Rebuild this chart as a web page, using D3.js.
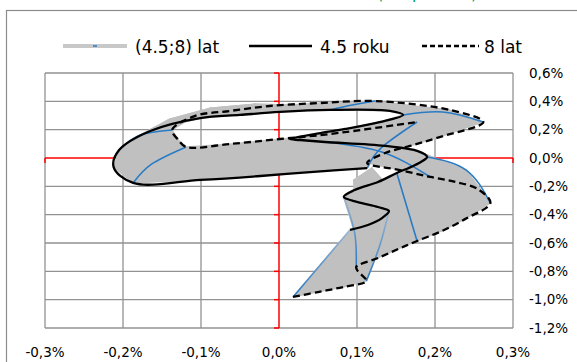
<!DOCTYPE html>
<html><head><meta charset="utf-8">
<script src="https://cdn.jsdelivr.net/npm/d3@7"></script>
<style>body{margin:0;background:#fff}svg{display:block}</style>
</head><body>
<svg id="c" width="577" height="362"></svg>
<script>
// ---- data (values in %) ----
const xTicks = [-0.3,-0.2,-0.1,0,0.1,0.2,0.3];
const yTicks = [0.6,0.4,0.2,0,-0.2,-0.4,-0.6,-0.8,-1.0,-1.2];
const legendNames = ["(4.5;8) lat","4.5 roku","8 lat"];
// 4.5 roku
const x45 = [0.091,0.114,0.132,0.141,0.127,0.101,0.083,0.097,0.127,0.151,0.172,0.186,0.190,0.178,0.136,0.059,0.027,0.014,0.053,0.085,0.129,0.159,0.142,0.065,0.001,-0.050,-0.101,-0.165,-0.205,-0.212,-0.187,-0.101,-0.024,0.040,0.113];
const y45 = [-0.508,-0.473,-0.424,-0.374,-0.346,-0.311,-0.275,-0.226,-0.169,-0.106,-0.056,-0.014,0.007,0.049,0.085,0.113,0.127,0.134,0.176,0.205,0.254,0.304,0.332,0.339,0.325,0.304,0.282,0.191,0.056,-0.064,-0.176,-0.155,-0.127,-0.099,-0.071];
// intermediate maturity inside the (4.5;8) band
const xMid = [0.054,0.078,0.106,0.129,0.117,0.106,0.097,0.096,0.119,0.164,0.191,0.217,0.240,0.222,0.174,0.132,0.104,0.072,0.091,0.123,0.162,0.210,0.181,0.094,0.027,-0.031,-0.088,-0.140,-0.178,-0.165,-0.163,-0.082,-0.012,0.053,0.131];
const yMid = [-0.748,-0.706,-0.664,-0.621,-0.579,-0.551,-0.529,-0.155,-0.071,-0.346,-0.261,-0.169,-0.085,-0.049,0.007,0.042,0.056,0.071,0.113,0.155,0.212,0.325,0.360,0.374,0.374,0.381,0.353,0.275,0.162,0.071,-0.042,-0.014,0.014,0.035,0.071];
// 8 lat
const x8 = [0.018,0.050,0.082,0.112,0.106,0.101,0.099,0.127,0.153,0.177,0.209,0.241,0.271,0.255,0.226,0.194,0.155,0.113,0.136,0.168,0.206,0.262,0.219,0.123,0.053,-0.012,-0.063,-0.108,-0.137,-0.129,-0.119,-0.063,0.001,0.065,0.177];
const y8 = [-0.981,-0.946,-0.911,-0.868,-0.826,-0.798,-0.769,-0.706,-0.642,-0.586,-0.515,-0.424,-0.318,-0.219,-0.169,-0.134,-0.085,-0.035,0.035,0.085,0.148,0.254,0.339,0.402,0.388,0.367,0.332,0.296,0.198,0.127,0.078,0.099,0.134,0.169,0.254];
// time points where the cross-section across maturities is drawn (blue)
const crossIdx = [0,3,6,9,12,15,21,23,28,30,34];
const lightCross = [0,3,6];

// ---- drawing ----
const svg = d3.select("#c");
const x = d3.scaleLinear().domain([-0.3,0.3]).range([45,513]);
const y = d3.scaleLinear().domain([-1.2,0.6]).range([328,73]);
const fmt = v => (Math.abs(v)<1e-9 ? "0,0" : v.toFixed(1).replace(".",",")) + "%";
const FONT = "DejaVu Sans, sans-serif";

// outer frame
svg.append("rect").attr("x",6.5).attr("y",10.5).attr("width",600).attr("height",400)
  .attr("fill","none").attr("stroke","#8c8c8c").attr("stroke-width",1.2);
// cut-off green title remnants (title lies above the visible area)
svg.append("text").attr("y",-1).attr("fill","#00a050").attr("font-family",FONT).attr("font-size",16)
  .selectAll("tspan").data([["(",377],["p",412],[")",471]]).join("tspan")
  .attr("x",d=>d[1]).text(d=>d[0]);

// grid
const grid = svg.append("g").attr("stroke","#929292").attr("stroke-width",1.3);
grid.selectAll(".v").data(xTicks.filter(d=>d!==0)).join("line")
  .attr("x1",d=>x(d)).attr("x2",d=>x(d)).attr("y1",y(0.6)).attr("y2",y(-1.2));
grid.selectAll(".h").data(yTicks.filter(d=>d!==0)).join("line")
  .attr("x1",x(-0.3)).attr("x2",x(0.3)).attr("y1",d=>y(d)).attr("y2",d=>y(d));

// red axes
const red = svg.append("g").attr("stroke","#ff0000").attr("stroke-width",1.5);
red.append("line").attr("x1",x(0)).attr("x2",x(0)).attr("y1",y(0.6)).attr("y2",y(-1.2));
red.selectAll(".yt").data(yTicks).join("line")
  .attr("x1",x(0)-5).attr("x2",x(0)).attr("y1",d=>y(d)).attr("y2",d=>y(d));
red.append("line").attr("x1",x(-0.3)).attr("x2",x(0.3)).attr("y1",y(0)).attr("y2",y(0));
red.selectAll(".xt").data(xTicks).join("line")
  .attr("x1",d=>x(d)).attr("x2",d=>x(d)).attr("y1",y(0)).attr("y2",y(0)+5);

// band fill
const S = x45.map((v,i)=>[x(v),y(y45[i])]);
const M = xMid.map((v,i)=>[x(v),y(yMid[i])]);
const D = x8.map((v,i)=>[x(v),y(y8[i])]);
const polys = [];
for (let i=0;i<S.length-1;i++){
  polys.push([S[i],S[i+1],M[i+1],M[i]]);
  polys.push([M[i],M[i+1],D[i+1],D[i]]);
}
svg.append("g").selectAll("path").data(polys).join("path")
  .attr("d",p=>"M"+p.join("L")+"Z").attr("fill","#c0c0c0").attr("stroke","#c0c0c0").attr("stroke-width",1.2).attr("stroke-linejoin","round");

// blue cross-sections
const defs = svg.append("defs");
const cross = d3.line().curve(d3.curveNatural);
crossIdx.forEach(i=>{
  let stroke = "#2a7bc4";
  if (lightCross.includes(i)){
    const gid = "g"+i;
    const g = defs.append("linearGradient").attr("id",gid).attr("gradientUnits","userSpaceOnUse")
      .attr("x1",D[i][0]).attr("y1",D[i][1]).attr("x2",S[i][0]).attr("y2",S[i][1]);
    g.append("stop").attr("offset",0).attr("stop-color","#2a7bc4");
    g.append("stop").attr("offset",1).attr("stop-color","#9bb6cf");
    stroke = "url(#"+gid+")";
  }
  svg.append("path").attr("d",cross([S[i],M[i],D[i]])).attr("fill","none")
    .attr("stroke",stroke).attr("stroke-width",1.6);
});

// main curves
const ln = d3.line().curve(d3.curveCatmullRom.alpha(0.5));
svg.append("path").attr("d",ln(D)).attr("fill","none").attr("stroke","#000")
  .attr("stroke-width",2.3).attr("stroke-dasharray","7,4");
svg.append("path").attr("d",ln(S)).attr("fill","none").attr("stroke","#000")
  .attr("stroke-width",2.3);

// axis labels
svg.append("g").selectAll("text").data(yTicks).join("text")
  .attr("x",529).attr("y",d=>y(d)).attr("dy","0.35em")
  .attr("font-family",FONT).attr("font-size",13.5).attr("fill","#000").text(fmt);
svg.append("g").selectAll("text").data(xTicks).join("text")
  .attr("x",d=>x(d)).attr("y",357).attr("text-anchor","middle")
  .attr("font-family",FONT).attr("font-size",13.5).attr("fill","#000").text(fmt);

// legend
const lg = svg.append("g");
const ly = 46;
lg.append("line").attr("x1",63).attr("x2",127).attr("y1",ly).attr("y2",ly).attr("stroke","#c8c8c8").attr("stroke-width",4);
lg.append("line").attr("x1",93).attr("x2",97).attr("y1",ly).attr("y2",ly).attr("stroke","#2a7bc4").attr("stroke-width",1.5);
lg.append("line").attr("x1",249).attr("x2",312).attr("y1",ly).attr("y2",ly).attr("stroke","#000").attr("stroke-width",2.3);
lg.append("line").attr("x1",422).attr("x2",479).attr("y1",ly).attr("y2",ly).attr("stroke","#000").attr("stroke-width",2.3).attr("stroke-dasharray","5,3");
lg.selectAll("text").data(legendNames).join("text")
  .attr("x",(d,i)=>[135,320,484][i]).attr("y",52.5)
  .attr("font-family",FONT).attr("font-size",17).attr("fill","#000").text(d=>d);
</script>
</body></html>
